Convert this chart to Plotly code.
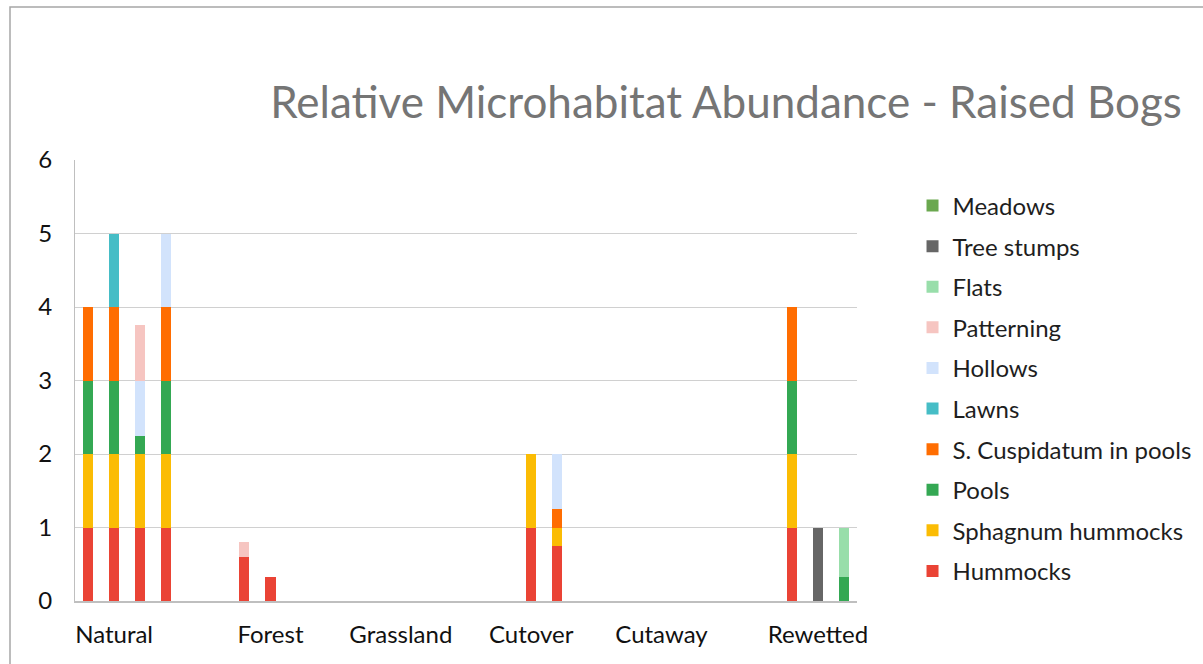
import plotly.graph_objects as go

# ---- data (30 category slots, as in the source sheet) ----
_ = None
slot_labels = ["", "Natural", "", "", "", "", "", "Forest", "", "",
               "", "", "Grassland", "", "", "", "", "Cutover", "", "",
               "", "", "Cutaway", "", "", "", "", "", "Rewetted", ""]

hummocks = [1, 1, 1, 1, _, _, 0.6, 0.33, _, _,
            _, _, _, _, _, _, _, 1, 0.75, _,
            _, _, _, _, _, _, _, 1, _, _]
sphagnum_hummocks = [1, 1, 1, 1, _, _, _, _, _, _,
                     _, _, _, _, _, _, _, 1, 0.25, _,
                     _, _, _, _, _, _, _, 1, _, _]
pools = [1, 1, 0.25, 1, _, _, _, _, _, _,
         _, _, _, _, _, _, _, _, _, _,
         _, _, _, _, _, _, _, 1, _, 0.33]
s_cuspidatum = [1, 1, _, 1, _, _, _, _, _, _,
                _, _, _, _, _, _, _, _, 0.25, _,
                _, _, _, _, _, _, _, 1, _, _]
lawns = [_, 1, _, _, _, _, _, _, _, _,
         _, _, _, _, _, _, _, _, _, _,
         _, _, _, _, _, _, _, _, _, _]
hollows = [_, _, 0.75, 1, _, _, _, _, _, _,
           _, _, _, _, _, _, _, _, 0.75, _,
           _, _, _, _, _, _, _, _, _, _]
patterning = [_, _, 0.75, _, _, _, 0.2, _, _, _,
              _, _, _, _, _, _, _, _, _, _,
              _, _, _, _, _, _, _, _, _, _]
flats = [_, _, _, _, _, _, _, _, _, _,
         _, _, _, _, _, _, _, _, _, _,
         _, _, _, _, _, _, _, _, _, 0.67]
tree_stumps = [_, _, _, _, _, _, _, _, _, _,
               _, _, _, _, _, _, _, _, _, _,
               _, _, _, _, _, _, _, _, 1, _]
meadows = [0] * 30

series_names = ["Hummocks", "Sphagnum hummocks", "Pools", "S. Cuspidatum in pools",
                "Lawns", "Hollows", "Patterning", "Flats", "Tree stumps", "Meadows"]
series_values = [hummocks, sphagnum_hummocks, pools, s_cuspidatum, lawns,
                 hollows, patterning, flats, tree_stumps, meadows]
series_colors = ["#EA4335", "#FBBC04", "#34A853", "#FF6D01", "#46BDC6",
                 "#D2E3FC", "#F6C5C1", "#98DEAA", "#666666", "#6AA84F"]

x_slots = list(range(len(slot_labels)))
tick_vals = [i for i, s in enumerate(slot_labels) if s]
tick_text = [s for s in slot_labels if s]

FONT = "Lato, 'Open Sans', sans-serif"

fig = go.Figure()
for i, (name, vals, col) in enumerate(zip(series_names, series_values, series_colors)):
    fig.add_trace(go.Bar(
        x=x_slots, y=vals, name=name, legendgroup=name,
        legendrank=1000 - i,
        marker=dict(color=col, line=dict(width=0)),
        width=0.385,
    ))

fig.update_layout(
    width=1203, height=664,
    barmode="stack",
    paper_bgcolor="white", plot_bgcolor="white",
    margin=dict(l=75, r=346, t=160, b=63, autoexpand=False),
    font=dict(family=FONT, color="#111111"),
    title=dict(
        text="Relative Microhabitat Abundance - Raised Bogs",
        font=dict(family=FONT, size=44, color="#757575"),
        xref="paper", x=0.8325, xanchor="center",
        yref="container", y=1 - 103 / 664, yanchor="middle",
    ),
    xaxis=dict(
        range=[-0.5, 29.5], tickvals=tick_vals, ticktext=tick_text,
        showgrid=False, zeroline=False, showline=True, linecolor="#bfbfbf",
        linewidth=1.5, ticks="", ticklabelstandoff=11,
        tickfont=dict(family=FONT, size=24, color="#111111"),
    ),
    yaxis=dict(
        range=[0, 6], dtick=1, showgrid=True, gridcolor="#d0d0d0", gridwidth=1.2,
        zeroline=False, showline=True, linecolor="#bfbfbf", linewidth=1.2,
        ticks="", ticklabelstandoff=17,
        tickfont=dict(family=FONT, size=24, color="#111111"),
    ),
    legend=dict(
        x=1.0710, xanchor="left", y=0.9468, yanchor="top",
        traceorder="grouped", tracegroupgap=6.4,
        font=dict(family=FONT, size=24, color="#1e1e1e"),
        bgcolor="rgba(0,0,0,0)",
    ),
    shapes=[dict(
        type="rect", xref="paper", yref="paper",
        x0=(10 - 75) / 782, x1=1.6, y0=-0.5, y1=(601 - 7) / 441,
        line=dict(color="#a6a6a6", width=1.5), fillcolor="rgba(0,0,0,0)",
        layer="below",
    )],
)

fig.write_html("out.html", config={"displayModeBar": False},
               post_script="document.body.style.margin='0';")
